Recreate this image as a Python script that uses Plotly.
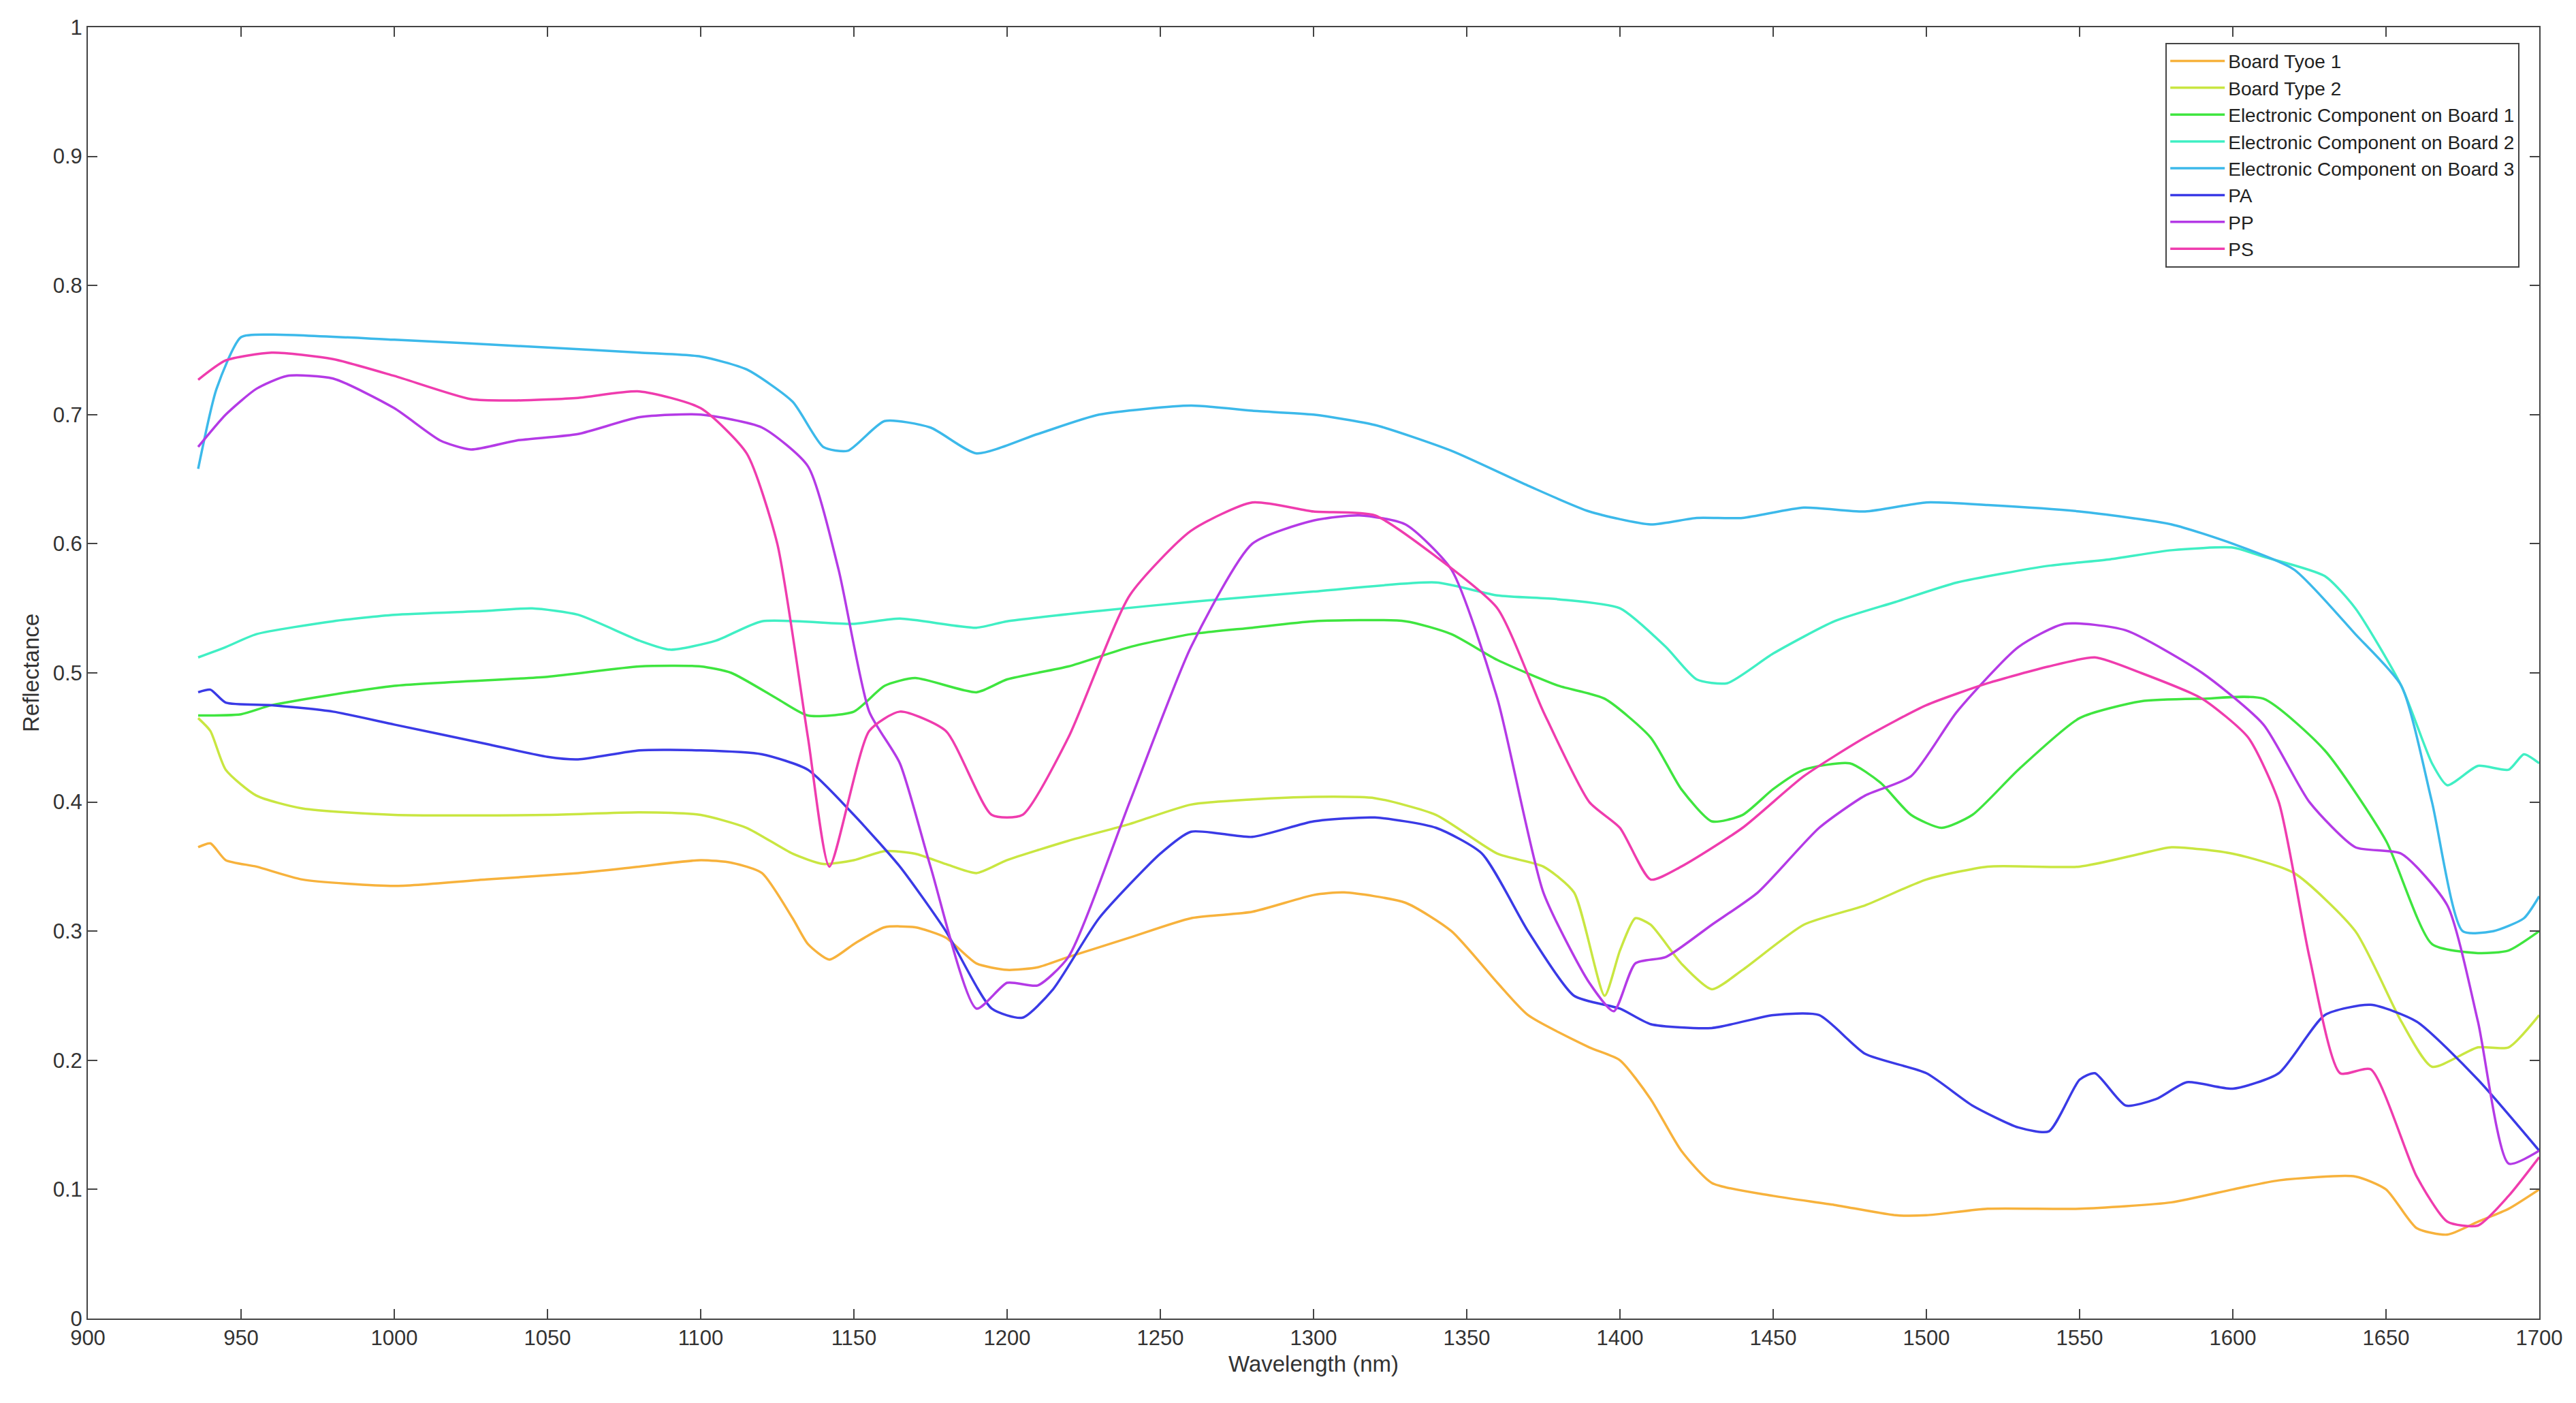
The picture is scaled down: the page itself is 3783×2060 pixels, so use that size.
import plotly.graph_objects as go

names = ["Board Tyoe 1", "Board Type 2", "Electronic Component on Board 1",
         "Electronic Component on Board 2", "Electronic Component on Board 3", "PA", "PP", "PS"]
colors = ["#f7b23c", "#c9e641", "#3fe53f", "#40efc4", "#3cb9ea", "#3a3ae6", "#b43ae6", "#ef3cae"]

bt1_x = [936,940,945,955,970,1000,1030,1060,1080,1100,1110,1120,1130,1135,1142,1150,1160,1170,1180,1190,1200,1210,1220,1240,1260,1280,1300,1310,1330,1345,1360,1370,1390,1400,1410,1420,1430,1450,1470,1490,1500,1520,1550,1580,1600,1615,1640,1650,1660,1670,1680,1690,1700]
bt1_y = [.365,.368,.355,.35,.34,.335,.34,.345,.35,.355,.353,.345,.31,.29,.278,.29,.303,.303,.295,.275,.27,.272,.28,.295,.31,.315,.328,.33,.322,.3,.26,.235,.21,.2,.17,.13,.105,.095,.088,.08,.08,.085,.085,.09,.1,.107,.11,.1,.07,.065,.075,.085,.1]

bt2_x = [936,940,945,955,970,1000,1050,1080,1100,1115,1130,1140,1150,1160,1170,1180,1190,1200,1220,1240,1260,1280,1300,1320,1340,1360,1375,1385,1395,1400,1405,1410,1420,1430,1440,1460,1480,1500,1520,1550,1570,1580,1600,1620,1640,1655,1665,1680,1690,1700]
bt2_y = [.465,.455,.425,.405,.395,.39,.39,.392,.39,.38,.36,.352,.355,.362,.36,.352,.345,.355,.37,.383,.398,.402,.404,.403,.39,.36,.35,.33,.25,.285,.31,.305,.275,.255,.27,.305,.32,.34,.35,.35,.36,.365,.36,.345,.3,.23,.195,.21,.21,.235]

ec1_x = [936,950,960,1000,1050,1080,1100,1110,1125,1135,1150,1160,1170,1190,1200,1220,1240,1260,1280,1300,1330,1345,1360,1380,1395,1410,1420,1430,1440,1450,1460,1475,1485,1495,1505,1515,1530,1550,1570,1590,1610,1630,1650,1665,1680,1690,1700]
ec1_y = [.467,.468,.475,.49,.497,.505,.505,.5,.48,.467,.47,.49,.496,.485,.495,.505,.52,.53,.535,.54,.54,.53,.51,.49,.48,.45,.41,.385,.39,.41,.425,.43,.415,.39,.38,.39,.425,.465,.478,.48,.48,.44,.37,.29,.283,.285,.3]

ec2_x = [936,945,955,980,1000,1030,1045,1060,1080,1090,1105,1120,1150,1165,1190,1200,1230,1260,1300,1340,1360,1380,1400,1415,1425,1435,1450,1470,1490,1510,1540,1560,1580,1600,1610,1630,1640,1655,1665,1670,1680,1690,1695,1700]
ec2_y = [.512,.52,.53,.54,.545,.548,.55,.545,.525,.518,.525,.54,.538,.542,.535,.54,.548,.555,.563,.57,.56,.557,.55,.52,.495,.492,.515,.54,.555,.57,.583,.588,.595,.597,.59,.575,.55,.49,.43,.413,.428,.425,.437,.43]

ec3_x = [936,942,950,960,1000,1050,1080,1100,1115,1130,1140,1148,1160,1175,1190,1210,1230,1260,1280,1300,1320,1345,1370,1390,1410,1425,1440,1460,1480,1500,1520,1550,1580,1600,1620,1640,1655,1665,1675,1685,1695,1700]
ec3_y = [.658,.72,.76,.762,.758,.752,.748,.745,.735,.71,.675,.672,.695,.69,.67,.685,.7,.707,.703,.7,.692,.672,.645,.625,.615,.62,.62,.628,.625,.632,.63,.625,.615,.6,.58,.53,.49,.4,.3,.3,.31,.327]

pa_x = [936,940,945,960,980,1000,1030,1050,1060,1080,1100,1120,1135,1150,1165,1180,1195,1205,1215,1230,1250,1260,1280,1300,1320,1340,1355,1370,1385,1400,1410,1430,1450,1465,1480,1500,1515,1530,1540,1550,1555,1565,1575,1585,1600,1615,1630,1645,1660,1680,1700]
pa_y = [.485,.487,.477,.475,.47,.46,.445,.435,.433,.44,.44,.437,.425,.39,.35,.3,.24,.233,.255,.31,.36,.377,.373,.385,.388,.38,.36,.3,.25,.24,.228,.225,.235,.235,.205,.19,.165,.148,.145,.185,.19,.165,.17,.183,.178,.19,.235,.243,.23,.185,.13]

pp_x = [936,945,955,965,980,1000,1015,1025,1040,1060,1080,1100,1120,1135,1145,1155,1165,1175,1190,1200,1210,1220,1240,1260,1280,1300,1315,1330,1345,1360,1375,1390,1398,1405,1415,1430,1445,1465,1480,1495,1510,1530,1545,1565,1590,1610,1625,1640,1655,1670,1680,1690,1700]
pp_y = [.675,.7,.72,.73,.728,.705,.68,.673,.68,.685,.698,.7,.69,.66,.58,.47,.43,.35,.24,.26,.258,.28,.4,.52,.6,.618,.622,.615,.58,.48,.33,.26,.238,.275,.28,.305,.33,.38,.405,.42,.47,.52,.538,.533,.5,.46,.4,.365,.36,.32,.23,.12,.13]

ps_x = [936,945,960,980,1000,1025,1040,1060,1080,1100,1115,1125,1135,1142,1155,1165,1180,1195,1205,1220,1240,1260,1280,1300,1320,1340,1360,1375,1390,1400,1410,1420,1440,1460,1480,1500,1520,1540,1555,1570,1590,1605,1615,1625,1635,1645,1660,1670,1680,1690,1700]
ps_y = [.727,.742,.748,.743,.73,.712,.711,.713,.718,.705,.67,.6,.45,.35,.455,.47,.455,.39,.39,.45,.56,.61,.632,.625,.622,.59,.55,.47,.4,.38,.34,.35,.38,.42,.45,.475,.492,.505,.512,.5,.48,.45,.4,.28,.19,.193,.11,.075,.072,.095,.125]

xs = [bt1_x, bt2_x, ec1_x, ec2_x, ec3_x, pa_x, pp_x, ps_x]
ys = [bt1_y, bt2_y, ec1_y, ec2_y, ec3_y, pa_y, pp_y, ps_y]

fig = go.Figure()
for n, c, x, y in zip(names, colors, xs, ys):
    fig.add_trace(go.Scatter(x=x, y=y, name=n, mode="lines",
                             line=dict(color=c, width=3.5, shape="spline", smoothing=0.6)))

axis_common = dict(showgrid=False, zeroline=False, showline=True, linecolor="#444",
                   linewidth=2, mirror="ticks", ticks="inside", ticklen=14, tickwidth=2,
                   tickcolor="#444", tickfont=dict(size=31, color="#333"))
fig.update_xaxes(range=[900, 1700], dtick=50, title=dict(text="Wavelength (nm)", font=dict(size=33, color="#333"), standoff=10), **axis_common)
fig.update_yaxes(range=[0, 1], dtick=0.1, title=dict(text="Reflectance", font=dict(size=33, color="#333"), standoff=10), **axis_common)
fig.update_layout(
    width=3783, height=2060, plot_bgcolor="white", paper_bgcolor="white",
    font=dict(family="Liberation Sans, Arial, sans-serif"),
    margin=dict(l=121, r=62, t=32, b=132),
    legend=dict(x=0.992, y=0.988, xanchor="right", yanchor="top", bordercolor="#444",
                borderwidth=2, bgcolor="white", font=dict(size=28, color="#222"),
                tracegroupgap=0, itemwidth=80),
)
fig.write_html("out.html")
